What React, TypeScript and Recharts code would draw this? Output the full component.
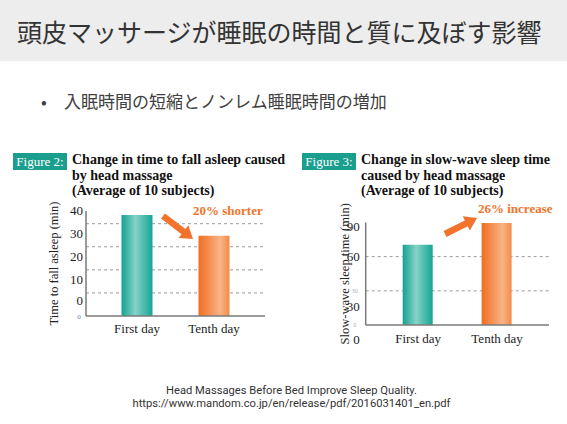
import React from 'react'
import { BarChart, Bar, XAxis, YAxis, CartesianGrid, Cell } from 'recharts'

const CATEGORIES = ['First day', 'Tenth day']
const SLEEP_ONSET_MIN = [43.8, 34.8]
const SLOW_WAVE_MIN = [70.5, 89.5]
const ONSET_TICKS = [0, 10, 20, 30, 40]
const SLOW_WAVE_TICKS = [0, 30, 60, 90]

const SERIF = '"Liberation Serif", "DejaVu Serif", serif'
const JP = '"Noto Sans CJK JP", "Noto Sans", sans-serif'
const AXIS = '#7a7a7a'
const GRID = '#9a9a9a'
const ORANGE = '#f2732c'

const onsetData = CATEGORIES.map((day, i) => ({ day, value: SLEEP_ONSET_MIN[i] }))
const slowWaveData = CATEGORIES.map((day, i) => ({ day, value: SLOW_WAVE_MIN[i] }))

// the source image has its y labels drifted away from the gridlines
const onsetLabelShift = (v: number) => (v === 0 ? -16 : -13)
const slowWaveLabelShift: Record<number, number> = { 90: 4, 60: 0, 30: 16, 0: 14 }

function Gradients() {
  return (
    <defs>
      <linearGradient id="teal" x1="0" y1="0" x2="1" y2="0">
        <stop offset="0%" stopColor="#12a291" />
        <stop offset="45%" stopColor="#86d2c8" />
        <stop offset="100%" stopColor="#16a595" />
      </linearGradient>
      <linearGradient id="orange" x1="0" y1="0" x2="1" y2="0">
        <stop offset="0%" stopColor="#f06d1f" />
        <stop offset="70%" stopColor="#f9b487" />
        <stop offset="100%" stopColor="#f48a45" />
      </linearGradient>
    </defs>
  )
}

const BAR_FILLS = ['url(#teal)', 'url(#orange)']

function DayTick({ x, y, payload, dy }: any) {
  return (
    <text x={x} y={y + dy} textAnchor="middle" dominantBaseline="central"
      fontFamily={SERIF} fontSize={13} fill="#222">
      {payload.value}
    </text>
  )
}

function OnsetTick({ x, y, payload }: any) {
  const v = payload.value
  return (
    <g>
      <text x={x - 3} y={y + onsetLabelShift(v)} textAnchor="end" dominantBaseline="central"
        fontFamily={SERIF} fontSize={13} fill="#222">{v}</text>
      {v === 0 && (
        <text x={x - 7} y={y + 1} textAnchor="middle" dominantBaseline="central"
          fontFamily={SERIF} fontSize={7} fill="#5a86c0">0</text>
      )}
    </g>
  )
}

function SlowWaveTick({ x, y, payload }: any) {
  const v = payload.value
  const shift = slowWaveLabelShift[v] ?? 0
  return (
    <g>
      <text x={x - 6} y={y + shift} textAnchor="end" dominantBaseline="central"
        fontFamily={SERIF} fontSize={13} fill="#222">{v}</text>
      {shift > 8 && (
        <text x={x - 11} y={y} textAnchor="middle" dominantBaseline="central"
          fontFamily={SERIF} fontSize={6} fill="#8a98b0" opacity={0.8}>{v}</text>
      )}
    </g>
  )
}

function arrow(x1: number, y1: number, x2: number, y2: number, w: number, hw: number, hl: number) {
  const dx = x2 - x1
  const dy = y2 - y1
  const len = Math.hypot(dx, dy)
  const ux = dx / len
  const uy = dy / len
  const nx = -uy
  const ny = ux
  const bx = x2 - ux * hl
  const by = y2 - uy * hl
  const pts = [
    [x1 + nx * w / 2, y1 + ny * w / 2],
    [bx + nx * w / 2, by + ny * w / 2],
    [bx + nx * hw / 2, by + ny * hw / 2],
    [x2, y2],
    [bx - nx * hw / 2, by - ny * hw / 2],
    [bx - nx * w / 2, by - ny * w / 2],
    [x1 - nx * w / 2, y1 - ny * w / 2],
  ]
  return pts.map(p => p.join(',')).join(' ')
}

function FigureTitle({ left, label, lines }: { left: number; label: string; lines: string[] }) {
  return (
    <>
      <div style={{
        position: 'absolute', left, top: 153, width: 54, height: 17, background: '#1a9e8e',
        color: '#fff', fontFamily: SERIF, fontSize: 13, lineHeight: '17px', textAlign: 'center',
      }}>{label}</div>
      <div style={{
        position: 'absolute', left: left + 59, top: 152, fontFamily: SERIF, fontSize: 14,
        fontWeight: 'bold', lineHeight: '15.5px', color: '#111', whiteSpace: 'nowrap',
      }}>
        {lines.map(l => <div key={l}>{l}</div>)}
      </div>
    </>
  )
}

const footerLine = (top: number): React.CSSProperties => ({
  position: 'absolute', left: 0, top, width: 583, textAlign: 'center',
  fontFamily: 'Roboto, "Noto Sans", sans-serif', fontSize: 11.2, lineHeight: '13px',
  color: '#333', whiteSpace: 'nowrap',
})

export default function App() {
  return (
    <div style={{ position: 'fixed', left: 0, top: 0, width: 567, height: 424, background: '#fff', overflow: 'hidden' }}>
      <div style={{
        position: 'absolute', left: 0, top: 0, width: 567, height: 61, background: '#ededed',
        display: 'flex', alignItems: 'center', paddingLeft: 17, boxSizing: 'border-box',
        fontFamily: JP, fontSize: 25, color: '#333', whiteSpace: 'nowrap',
      }}>
        頭皮マッサージが睡眠の時間と質に及ぼす影響
      </div>
      <div style={{ position: 'absolute', left: 41, top: 89, fontFamily: JP, fontSize: 17, color: '#404040', lineHeight: '24px', whiteSpace: 'nowrap' }}>
        <span style={{ display: 'inline-block', width: 23 }}>•</span>入眠時間の短縮とノンレム睡眠時間の増加
      </div>

      <FigureTitle left={13} label="Figure 2:"
        lines={['Change in time to fall asleep caused', 'by head massage', '(Average of 10 subjects)']} />
      <FigureTitle left={302} label="Figure 3:"
        lines={['Change in slow-wave sleep time', 'caused by head massage', '(Average of 10 subjects)']} />

      <div style={{ position: 'absolute', left: 0, top: 195 }}>
        <BarChart width={280} height={150} data={onsetData}
          margin={{ top: 16, right: 15, bottom: 0, left: 40 }}>
          <Gradients />
          <CartesianGrid vertical={false} horizontalValues={[10, 20, 30, 40]}
            stroke={GRID} strokeDasharray="3 3" />
          <XAxis dataKey="day" height={29} tickLine={false} tickSize={0} tickMargin={0}
            padding={{ left: 12.5, right: 12.5 }} axisLine={{ stroke: AXIS, strokeWidth: 1.5 }}
            tick={<DayTick dy={12} />} />
          <YAxis width={46} domain={[0, 45.5]} ticks={ONSET_TICKS} tickLine={false} tickSize={0}
            tickMargin={0} axisLine={{ stroke: AXIS, strokeWidth: 1.5 }} tick={<OnsetTick />}
            label={{ value: 'Time to fall asleep (min)', angle: -90, position: 'insideLeft', offset: 14,
              style: { textAnchor: 'middle', fontFamily: SERIF, fontSize: 12.5, fill: '#222' } }} />
          <Bar dataKey="value" barSize={31} isAnimationActive={false}>
            {onsetData.map((d, i) => <Cell key={d.day} fill={BAR_FILLS[i]} />)}
          </Bar>
        </BarChart>
      </div>

      <div style={{ position: 'absolute', left: 290, top: 192 }}>
        <BarChart width={277} height={163} data={slowWaveData}
          margin={{ top: 30.5, right: 18, bottom: 0, left: 30 }}>
          <Gradients />
          <CartesianGrid vertical={false} horizontalValues={[30, 60]}
            stroke={GRID} strokeDasharray="3 3" />
          <XAxis dataKey="day" height={30} tickLine={false} tickSize={0} tickMargin={0}
            padding={{ left: 13, right: 12.5 }} axisLine={{ stroke: AXIS, strokeWidth: 1.5 }}
            tick={<DayTick dy={13.5} />} />
          <YAxis width={45.7} domain={[0, 90]} ticks={SLOW_WAVE_TICKS} tickLine={false} tickSize={0}
            tickMargin={0} axisLine={{ stroke: AXIS, strokeWidth: 1.5 }} tick={<SlowWaveTick />}
            label={{ value: 'Slow-wave sleep time (min)', angle: -90, position: 'insideLeft', offset: 25,
              style: { textAnchor: 'middle', fontFamily: SERIF, fontSize: 12.5, fill: '#222' } }} />
          <Bar dataKey="value" barSize={30} isAnimationActive={false}>
            {slowWaveData.map((d, i) => <Cell key={d.day} fill={BAR_FILLS[i]} />)}
          </Bar>
        </BarChart>
      </div>

      <svg width={567} height={424} style={{ position: 'absolute', left: 0, top: 0, pointerEvents: 'none' }}>
        <polygon points={arrow(163, 216, 193, 239, 6.5, 16, 12)} fill={ORANGE} />
        <polygon points={arrow(445, 234, 477, 218, 6.5, 16, 12)} fill={ORANGE} />
        <text x={193} y={210} dominantBaseline="central" fontFamily={SERIF} fontSize={13}
          fontWeight="bold" fill={ORANGE}>20% shorter</text>
        <text x={478} y={208} dominantBaseline="central" fontFamily={SERIF} fontSize={13}
          fontWeight="bold" fill={ORANGE}>26% increase</text>
      </svg>

      <div style={footerLine(383.5)}>Head Massages Before Bed Improve Sleep Quality.</div>
      <div style={footerLine(397)}>https://www.mandom.co.jp/en/release/pdf/2016031401_en.pdf</div>
    </div>
  )
}
